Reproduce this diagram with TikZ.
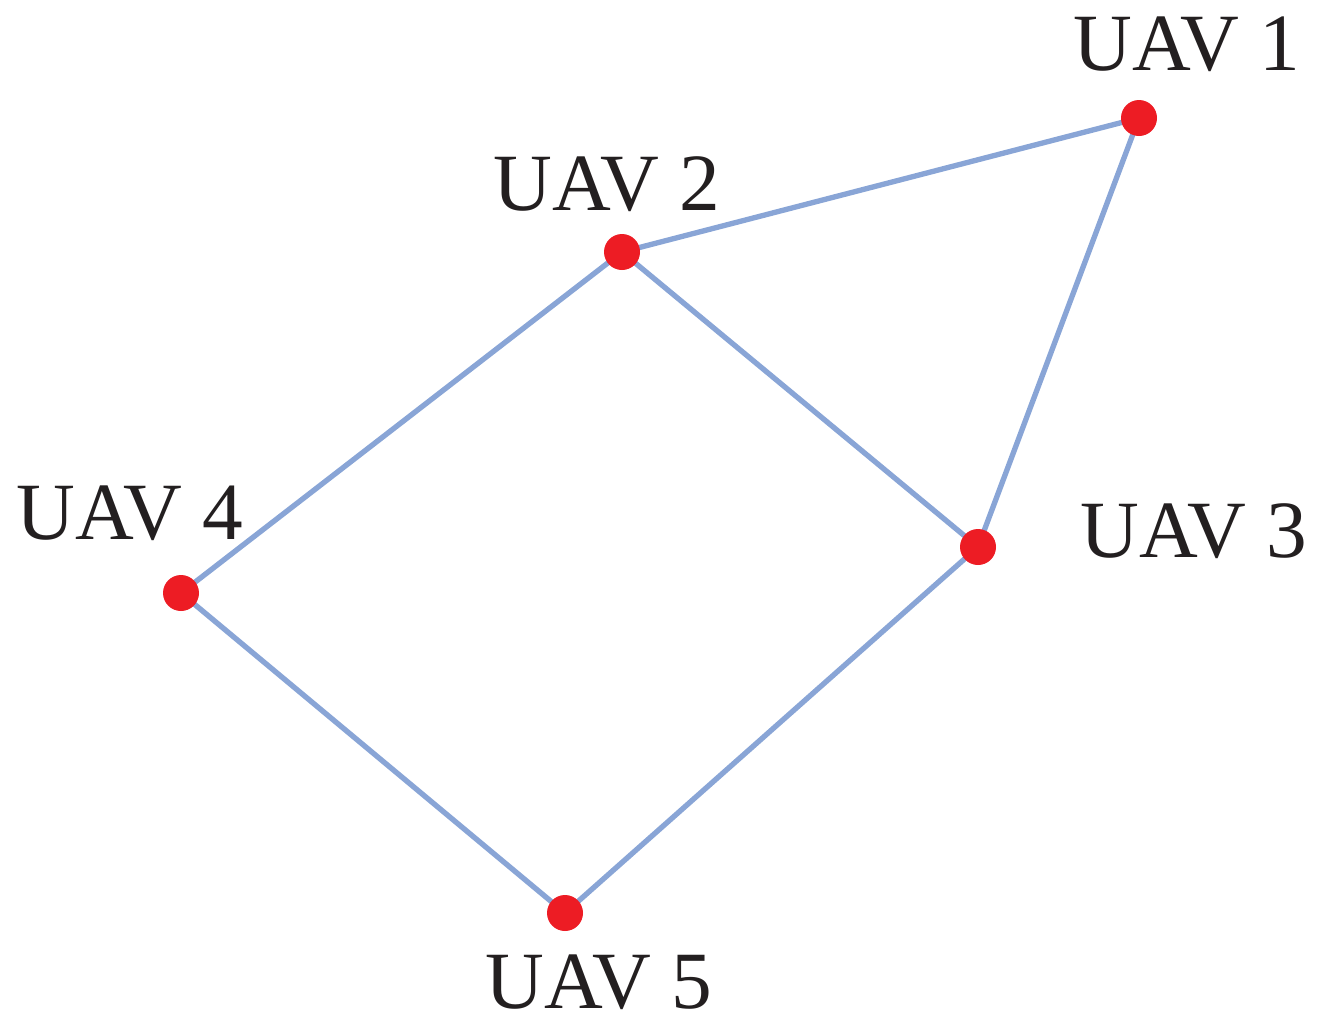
\documentclass[tikz,border=0pt]{standalone}
\usepackage{fontspec}
\setmainfont{Liberation Serif}
\definecolor{linkblue}{RGB}{137,165,214}
\definecolor{uavred}{RGB}{237,28,36}
\definecolor{txt}{RGB}{35,31,32}
\begin{document}
\begin{tikzpicture}[x=0.75pt,y=-0.75pt,
  uav/.style={circle,fill=uavred,inner sep=0pt,minimum size=27pt},
  lab/.style={font=\fontsize{61}{64}\selectfont,text=txt,inner sep=0pt},
  link/.style={draw=linkblue,line width=4pt}]
\useasboundingbox (0,0) rectangle (1317,1032);
\coordinate (p1) at (1139,118);
\coordinate (p2) at (622,252);
\coordinate (p3) at (978,547);
\coordinate (p4) at (181,593);
\coordinate (p5) at (565,913);
\draw[link] (p2) -- (p1);
\draw[link] (p1) -- (p3);
\draw[link] (p2) -- (p3);
\draw[link] (p2) -- (p4);
\draw[link] (p4) -- (p5);
\draw[link] (p5) -- (p3);
\node[uav] (u1) at (p1) {};
\node[uav] (u2) at (p2) {};
\node[uav] (u3) at (p3) {};
\node[uav] (u4) at (p4) {};
\node[uav] (u5) at (p5) {};
\node[lab] (l1) at (1187,44) {UAV 1};
\node[lab] (l2) at (607,184) {UAV 2};
\node[lab] (l3) at (1194,531) {UAV 3};
\node[lab] (l4) at (130,513) {UAV 4};
\node[lab] (l5) at (599,982) {UAV 5};
\end{tikzpicture}
\end{document}
